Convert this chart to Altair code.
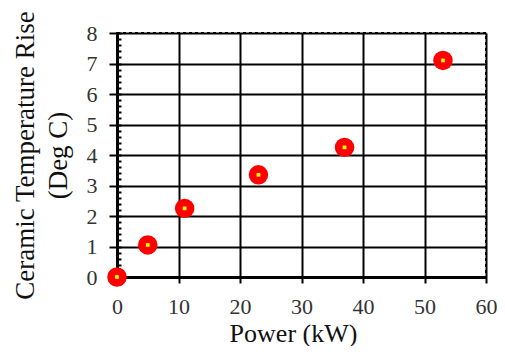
import altair as alt
import pandas as pd

power_kw = [0, 5, 11, 23, 37, 53]
temp_rise = [0.0, 1.05, 2.25, 3.35, 4.25, 7.1]

df = pd.DataFrame({"power": power_kw, "rise": temp_rise})

FONT = "Liberation Serif"
W, H = 369, 244

x_enc = alt.X(
    "power:Q",
    scale=alt.Scale(domain=[0, 60], nice=False),
    axis=alt.Axis(
        values=[0, 10, 20, 30, 40, 50, 60],
        title="Power (kW)",
        titleFontSize=26, titleBaseline="alphabetic", titleY=64, titleX=176,
        titleAlign="center", titleAnchor="start",
        labelFontSize=22, labelPadding=13, labelFlush=False,
        tickSize=6,
    ),
)

y_scale = alt.Scale(domain=[0, 8], nice=False)

base = alt.Chart(df)

pts = base.mark_circle(color="red", opacity=1, size=380).encode(
    x=x_enc,
    y=alt.Y(
        "rise:Q",
        scale=y_scale,
        axis=alt.Axis(
            values=[0, 1, 2, 3, 4, 5, 6, 7, 8],
            title=["Ceramic Temperature Rise", "(Deg C)"],
            titleFontSize=27, titleLineHeight=33, titlePadding=14,
            labelFontSize=22, labelPadding=12, labelFlush=False,
            tickSize=8,
        ),
    ),
)

minor = base.mark_point(opacity=0, size=1).encode(
    x=x_enc,
    y=alt.Y(
        "rise:Q",
        scale=y_scale,
        axis=alt.Axis(
            orient="right", offset=-W,
            values=[i / 5 for i in range(41)],
            labels=False, title=None, grid=False, domain=False,
            tickSize=4,
        ),
    ),
)

centers = base.mark_square(color="yellow", opacity=1, size=14).encode(
    x=x_enc,
    y=alt.Y("rise:Q", scale=y_scale, axis=None),
)

chart = (
    alt.layer(pts, minor, centers)
    .resolve_axis(y="independent")
    .properties(
        width=W,
        height=H,
        background="white",
        autosize=alt.AutoSizeParams(type="none"),
        padding={"left": 109, "top": 25, "right": 11, "bottom": 69},
    )
    .configure_axis(
        labelFont=FONT, labelColor="#333", titleFont=FONT, titleColor="#111",
        titleFontWeight="normal",
        tickWidth=2, tickColor="black",
        domainColor="black", domainWidth=3,
        grid=True, gridColor="black", gridWidth=2, gridOpacity=1,
    )
    .configure_view(stroke="black", strokeWidth=2, strokeDash=[3, 3])
)

chart.save("out.html", embed_options={"renderer": "svg", "actions": False})
